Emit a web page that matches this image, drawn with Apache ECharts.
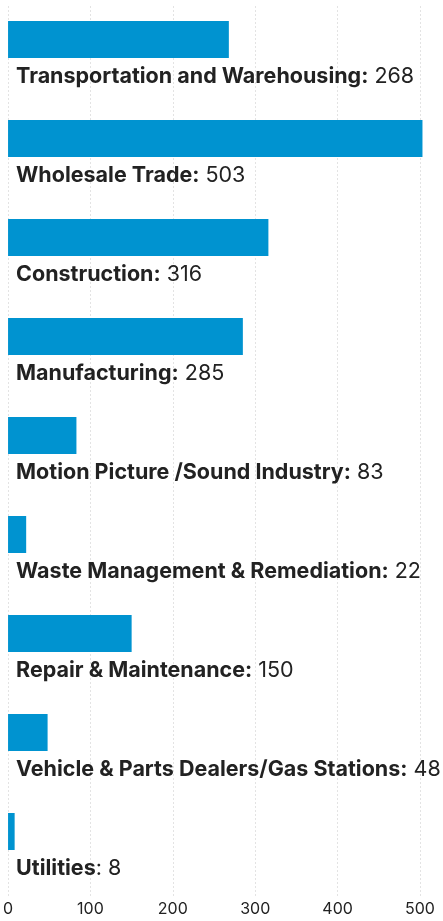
<!DOCTYPE html>
<html>
<head>
<meta charset="utf-8">
<script src="https://cdn.jsdelivr.net/npm/echarts@6/dist/echarts.min.js"></script>
<style>
  html, body { margin: 0; padding: 0; background: #fff; }
  #chart { width: 443px; height: 921px; }
</style>
</head>
<body>
<div id="chart"></div>
<script>
const categories = [
  "Transportation and Warehousing",
  "Wholesale Trade",
  "Construction",
  "Manufacturing",
  "Motion Picture /Sound Industry",
  "Waste Management & Remediation",
  "Repair & Maintenance",
  "Vehicle & Parts Dealers/Gas Stations",
  "Utilities"
];
const values = [268, 503, 316, 285, 83, 22, 150, 48, 8];
const xTicks = [0, 100, 200, 300, 400, 500];

const myChart = echarts.init(document.getElementById("chart"));
const font = "Inter, Roboto, sans-serif";

const option = {
  animation: false,
  grid: { left: 7, right: 23, top: 6, bottom: 24 },
  xAxis: {
    type: "value",
    min: xTicks[0],
    max: xTicks[xTicks.length - 1],
    interval: 100,
    axisLine: { show: false },
    axisTick: { show: false },
    splitLine: { show: true, lineStyle: { color: "#e3e3e3", type: [2, 2], width: 1 } },
    axisLabel: { color: "#222", fontSize: 16, fontFamily: font, margin: 4 }
  },
  yAxis: {
    type: "category",
    inverse: true,
    data: categories,
    axisLine: { show: false },
    axisTick: { show: false },
    axisLabel: { show: false }
  },
  series: [
    {
      type: "bar",
      data: values,
      barWidth: 37,
      barGap: "0%",
      clip: false,
      itemStyle: { color: "#0093d0" },
      label: {
        show: true,
        position: [8, 56],
        verticalAlign: "middle",
        align: "left",
        formatter: (p) => {
          // Utilities uses a plain colon
          if (p.name === "Utilities") return "{b|" + p.name + "}{v|: " + p.value + "}";
          return "{b|" + p.name + ":}{v| " + p.value + "}";
        },
        rich: {
          b: { fontFamily: font, fontWeight: "bold", fontSize: 21.5, color: "#222" },
          v: { fontFamily: font, fontWeight: "normal", fontSize: 21.5, color: "#222" }
        }
      }
    },
    {
      // spacer so the bar sits in the upper part of its band
      type: "bar",
      data: values,
      barWidth: 32,
      silent: true,
      itemStyle: { color: "rgba(0,0,0,0)" }
    }
  ]
};

option && myChart.setOption(option);
</script>
</body>
</html>
